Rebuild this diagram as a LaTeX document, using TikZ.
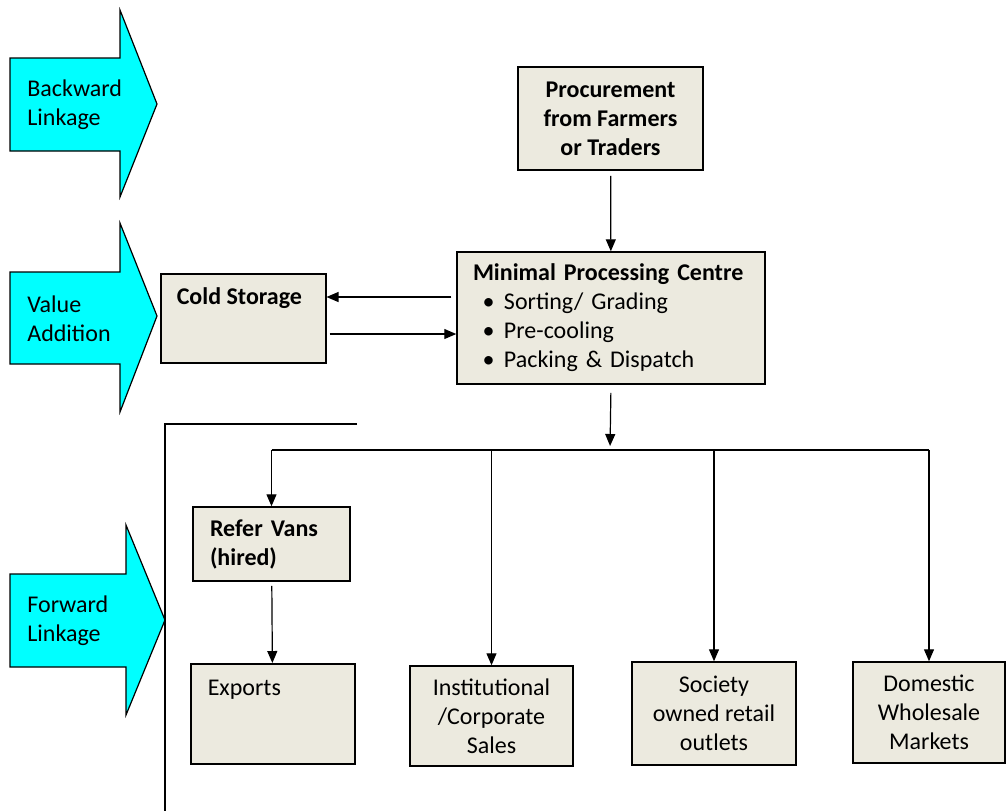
\documentclass[tikz,border=0pt]{standalone}
\usepackage{fontspec}
\setmainfont{Carlito}
\usepackage{xcolor}
\usepackage{tikz}
\usetikzlibrary{arrows.meta}

\definecolor{boxfill}{HTML}{ECEADF}
\definecolor{linkcyan}{HTML}{00FFFF}

\begin{document}
\begin{tikzpicture}[
  x=0.5pt, y=-0.5pt,
  box/.style={draw, line width=0.75pt, fill=boxfill, inner sep=0pt,
               font=\fontsize{12}{14.5}\selectfont, align=center},
  arr/.style={-{Triangle[length=6pt,width=5pt]}, line width=0.6pt},
  link/.style={draw, line width=0.6pt, fill=linkcyan},
  linktext/.style={anchor=west, align=left, inner sep=0pt, font=\fontsize{12}{14.5}\selectfont},
  font=\fontsize{12}{14.5}\selectfont
]

% ---- frame ----
\useasboundingbox (0,0) rectangle (1006,811);

% ---- linkage arrows (left) ----
\draw[link] (10,58) -- (120,58) -- (120,10) -- (157,104) -- (120,197) -- (120,151) -- (10,151) -- cycle;
\node[linktext] (back)  at (27,105) {Backward\\Linkage};
\draw[link] (10,272) -- (120,272) -- (120,223) -- (157,316) -- (120,412) -- (120,364) -- (10,364) -- cycle;
\node[linktext] (value) at (27,319) {Value\\Addition};
\draw[link] (10,574) -- (126,574) -- (126,525) -- (165,620) -- (126,715) -- (126,667) -- (10,667) -- cycle;
\node[linktext] (fwd)   at (27,621) {Forward\\Linkage};

% ---- bracket of forward linkage ----
\draw[line width=1pt] (357,424) -- (165,424) -- (165,811);

% ---- upper chain ----
\node[box, minimum width=92.5pt, minimum height=51.5pt, font=\fontsize{12}{14.5}\selectfont\bfseries]
  (proc) at (610.5,118.5) {Procurement\\from Farmers\\or Traders};
\node[box, minimum width=154pt, minimum height=66pt, align=left, text width=138pt]
  (mpc)  at (611,318) {\textbf{Minimal Processing Centre}\\
  \makebox[15.5pt]{\textbullet}Sorting/ Grading\\
  \makebox[15.5pt]{\textbullet}Pre-cooling\\
  \makebox[15.5pt]{\textbullet}Packing \& Dispatch};
\node[box, anchor=north west, inner xsep=8pt, inner ysep=7pt]
  (cold) at (160,273) {\parbox[c][30.5pt][t]{66.5pt}{\textbf{Cold Storage}}};

% ---- outlets ----
\node[box, minimum width=78.5pt, minimum height=37pt, align=left, text width=61.5pt]
  (vans) at (271.5,544) {\textbf{Refer Vans}\\\textbf{(hired)}};
\node[box, anchor=north west, inner xsep=8.5pt, inner ysep=8pt]
  (exp)  at (190,663) {\parbox[c][34pt][t]{65pt}{Exports}};
\node[box, minimum width=81.5pt, minimum height=50pt]   (inst) at (491.5,716) {Institutional\\/Corporate\\Sales};
\node[box, minimum width=82pt, minimum height=51.5pt]   (soc)  at (714,713.5) {Society\\owned retail\\outlets};
\node[box, minimum width=76pt, minimum height=50.5pt]   (dom)  at (929,712.5) {Domestic\\Wholesale\\Markets};

% ---- flow arrows ----
\draw[arr, shorten <=2.5pt] (proc) -- (mpc);
\draw[arr, shorten <=2.5pt] ([yshift=10.5pt]mpc.west) -- ([yshift=10.5pt]mpc.west -| cold.east);
\draw[arr, shorten <=1.5pt] ([yshift=-8pt]mpc.west -| cold.east) -- ([yshift=-8pt]mpc.west);

% ---- distribution bus ----
\coordinate (bus) at (610,450);
\draw[arr, shorten <=4pt, shorten >=2pt] (mpc.south) -- (bus);
\draw[line width=0.6pt] (vans.north |- bus) -- (dom.north |- bus);
\draw[arr] (vans.north |- bus) -- (vans.north);
\draw[arr] (inst.north |- bus) -- (inst.north);
\draw[arr] (soc.north |- bus)  -- (soc.north);
\draw[arr] (dom.north |- bus)  -- (dom.north);
\draw[arr, shorten <=2pt] (vans) -- (exp);

\end{tikzpicture}
\end{document}
